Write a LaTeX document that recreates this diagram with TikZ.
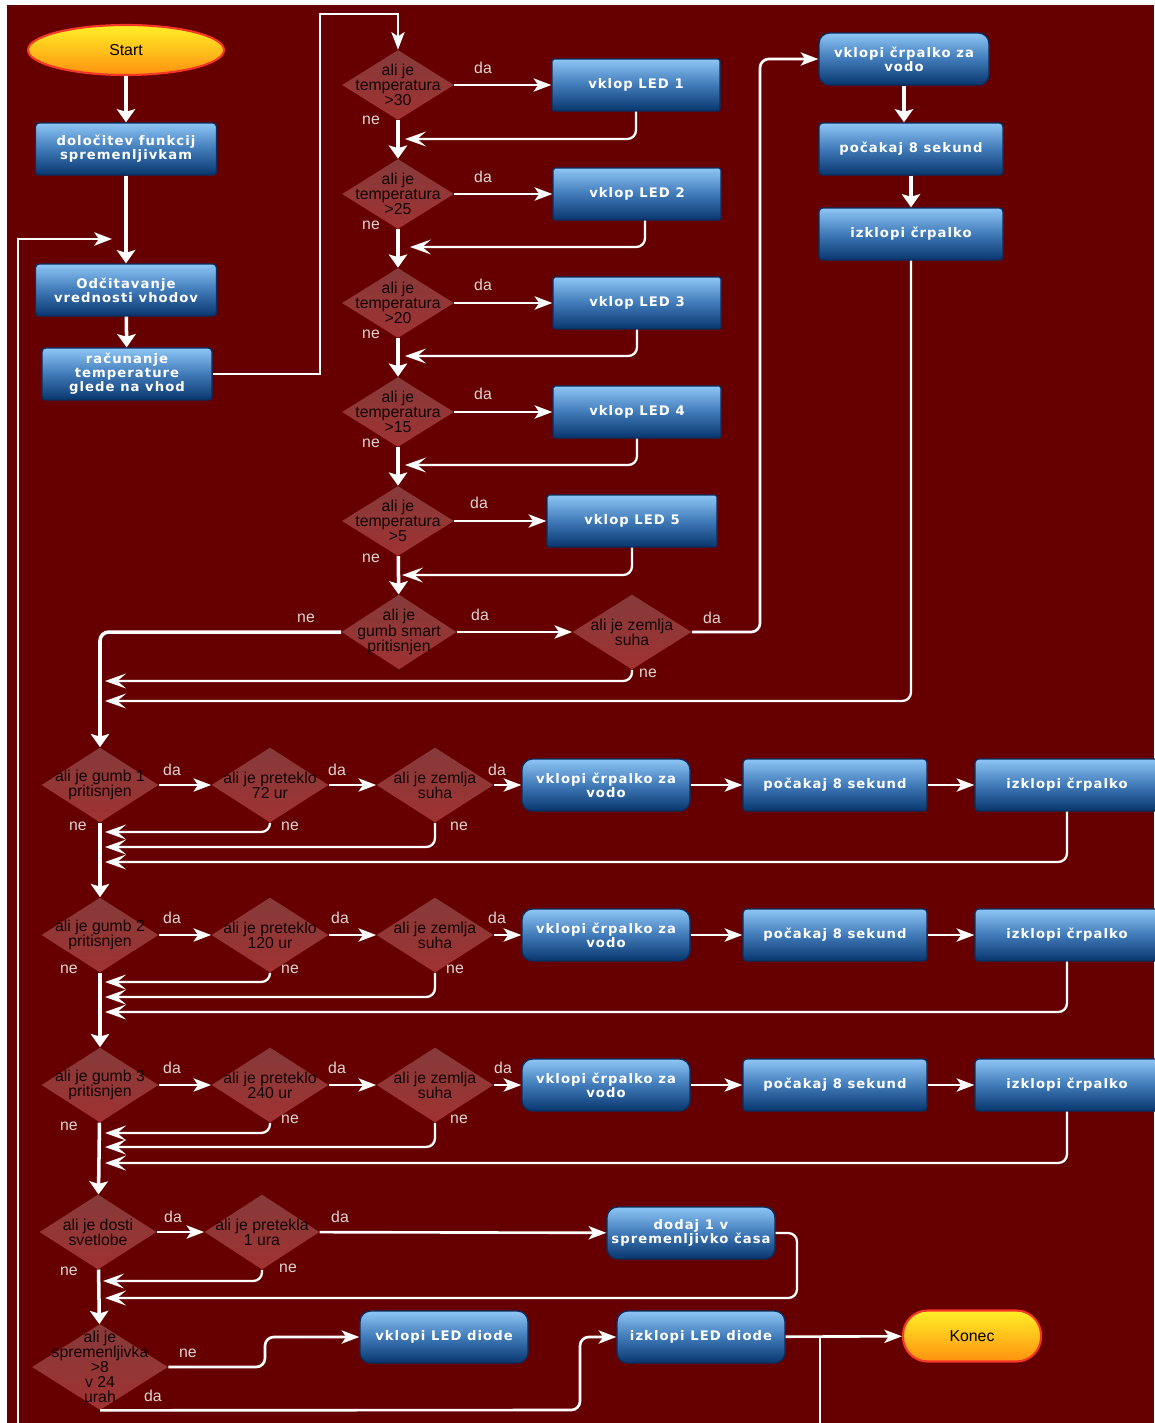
\documentclass[tikz,border=0pt]{standalone}
\usepackage{fontspec}
\setmainfont{Liberation Sans}
\newfontfamily\boxfont{DejaVu Sans}[LetterSpace=8]
\usetikzlibrary{arrows.meta,shapes.geometric}
\def\pxu{0.02cm}
\definecolor{ozadje}{RGB}{102,0,0}
\definecolor{modratop}{RGB}{142,198,246}
\definecolor{modrasr}{RGB}{64,122,184}
\definecolor{modrabot}{RGB}{8,54,110}
\definecolor{modrarob}{RGB}{12,46,94}
\definecolor{rdecatop}{RGB}{134,58,58}
\definecolor{rdecabot}{RGB}{160,50,50}
\definecolor{rumenatop}{RGB}{255,240,40}
\definecolor{rumenabot}{RGB}{255,145,15}
\definecolor{rdecrob}{RGB}{245,55,40}
\definecolor{oznsiva}{RGB}{222,212,212}
\definecolor{temnotekst}{RGB}{20,5,5}
\tikzset{
	korak/.style={rectangle, rounded corners=2pt, draw=modrarob, line width=0.8pt, top color=modratop, bottom color=modrabot, middle color=modrasr, text=white, font={\boxfont\bfseries\fontsize{7.5}{8}\selectfont}, align=center, minimum width=168*\pxu, minimum height=52*\pxu, inner sep=1pt},
	korakr/.style={korak, rounded corners=6pt},
	odlocitev/.style={diamond, draw=none, minimum width=112*\pxu, minimum height=70*\pxu, inner xsep=-40pt, inner ysep=-22pt, top color=rdecatop, bottom color=rdecabot, text=temnotekst, font={\fontsize{9}{8.6}\selectfont\lineskiplimit=-10pt}, align=center},
	vprasanje/.style={odlocitev, minimum width=117*\pxu, minimum height=75*\pxu},
	terminal/.style={ellipse, draw=rdecrob, line width=1.2pt, top color=rumenatop, bottom color=rumenabot, text=black, font=\fontsize{9}{10}\selectfont, minimum width=196*\pxu, minimum height=50*\pxu, inner sep=0pt},
	koncni/.style={terminal, rectangle, rounded corners=14pt, minimum width=138*\pxu, minimum height=51*\pxu},
	tok/.style={draw=white, line width=2pt, rounded corners=5pt, -{Stealth[length=7.5pt, width=10.5pt, inset=1.5pt]}},
	veja/.style={draw=white, line width=1.5pt, rounded corners=5pt, -{Stealth[length=10pt, width=7.5pt, inset=2.5pt]}},
	povratek/.style={draw=white, line width=1.3pt, rounded corners=5pt, -{Stealth[length=12pt, width=8.5pt, inset=5pt]}},
	crta/.style={draw=white, line width=1.5pt},
	oznaka/.style={text=oznsiva, font=\fontsize{9}{10}\selectfont, inner sep=0pt}
}

\begin{document}
\begin{tikzpicture}[x=0.02cm, y=-0.02cm]
			%%%%% START %%%%%
			
			\useasboundingbox (0,0) rectangle (1154,1423);
			\fill[white] (0,0) rectangle (1154,1423);
			\fill[ozadje] (7,5) rectangle (1154,1423);
			
			\node[terminal] (start) at (126,50) {Start};
			\node[korak, minimum width=181*\pxu] (dolocitev) at (126,149) {določitev funkcij\\spremenljivkam};
			\node[korak, minimum width=181*\pxu] (odcitavanje) at (126,290) {Odčitavanje\\vrednosti vhodov};
			\node[korak, minimum width=170*\pxu] (racunanje) at (127,374) {računanje\\temperature\\glede na vhod};
			
			\node[odlocitev] (t30) at (398,85) {ali je\\temperatura\\>30};
			\node[odlocitev] (t25) at (398,194) {ali je\\temperatura\\>25};
			\node[odlocitev] (t20) at (398,303) {ali je\\temperatura\\>20};
			\node[odlocitev] (t15) at (398,412) {ali je\\temperatura\\>15};
			\node[odlocitev] (t5) at (398,521) {ali je\\temperatura\\>5};
			
			\node[korak, rounded corners=1pt] (led1) at (636,85) {vklop LED 1};
			\node[korak, rounded corners=1pt] (led2) at (637,194) {vklop LED 2};
			\node[korak, rounded corners=1pt] (led3) at (637,303) {vklop LED 3};
			\node[korak, rounded corners=1pt] (led4) at (637,412) {vklop LED 4};
			\node[korak, rounded corners=1pt, minimum width=170*\pxu] (led5) at (632,521) {vklop LED 5};
			
			\node[vprasanje, minimum width=115*\pxu] (smart) at (399,632) {ali je\\gumb smart\\pritisnjen};
			\node[vprasanje, minimum width=119*\pxu] (zemlja0) at (632,632) {ali je zemlja\\suha};
			
			\node[korakr, minimum width=170*\pxu] (crp0) at (904,59) {vklopi črpalko za\\vodo};
			\node[korak, minimum width=184*\pxu] (cak0) at (911,149) {počakaj 8 sekund};
			\node[korak, minimum width=184*\pxu] (izk0) at (911,234) {izklopi črpalko};
			
			\node[vprasanje] (gumb1) at (100,785) {ali je gumb 1\\pritisnjen};
			\node[vprasanje] (ura72) at (270,785) {ali je preteklo\\72 ur};
			\node[vprasanje] (zemlja1) at (435,785) {ali je zemlja\\suha};
			\node[korakr] (crp1) at (606,785) {vklopi črpalko za\\vodo};
			\node[korak, minimum width=184*\pxu] (cak1) at (835,785) {počakaj 8 sekund};
			\node[korak, minimum width=184*\pxu] (izk1) at (1067,785) {izklopi črpalko};
			
			\node[vprasanje] (gumb2) at (100,935) {ali je gumb 2\\pritisnjen};
			\node[vprasanje] (ura120) at (270,935) {ali je preteklo\\120 ur};
			\node[vprasanje] (zemlja2) at (435,935) {ali je zemlja\\suha};
			\node[korakr] (crp2) at (606,935) {vklopi črpalko za\\vodo};
			\node[korak, minimum width=184*\pxu] (cak2) at (835,935) {počakaj 8 sekund};
			\node[korak, minimum width=184*\pxu] (izk2) at (1067,935) {izklopi črpalko};
			
			\node[vprasanje] (gumb3) at (100,1085) {ali je gumb 3\\pritisnjen};
			\node[vprasanje] (ura240) at (270,1085) {ali je preteklo\\240 ur};
			\node[vprasanje] (zemlja3) at (435,1085) {ali je zemlja\\suha};
			\node[korakr] (crp3) at (606,1085) {vklopi črpalko za\\vodo};
			\node[korak, minimum width=184*\pxu] (cak3) at (835,1085) {počakaj 8 sekund};
			\node[korak, minimum width=184*\pxu] (izk3) at (1067,1085) {izklopi črpalko};
			
			\node[vprasanje] (dosti) at (98,1232) {ali je dosti\\svetlobe};
			\node[vprasanje, minimum width=115*\pxu] (ura1) at (262,1232) {ali je pretekla\\1 ura};
			\node[korakr] (dodaj) at (691,1233) {dodaj 1 v\\spremenljivko časa};
			
			\node[odlocitev, minimum width=136*\pxu, minimum height=86*\pxu] (spr8) at (100,1367) {ali je\\spremenljivka\\>8\\v 24\\urah};
			\node[korakr] (ledon) at (444,1337) {vklopi LED diode};
			\node[korakr] (ledoff) at (701,1337) {izklopi LED diode};
			\node[koncni] (konec) at (972,1336) {Konec};
			
			% da / ne
			\node[oznaka] (da30) at (483,68) {da};
			\node[oznaka] (ne30) at (371,120) {ne};
			\node[oznaka] (da25) at (483,177) {da};
			\node[oznaka] (ne25) at (371,225) {ne};
			\node[oznaka] (da20) at (483,285) {da};
			\node[oznaka] (ne20) at (371,334) {ne};
			\node[oznaka] (da15) at (483,394) {da};
			\node[oznaka] (ne15) at (371,443) {ne};
			\node[oznaka] (da5) at (479,503) {da};
			\node[oznaka] (ne5) at (371,558) {ne};
			\node[oznaka] (nesmart) at (306,618) {ne};
			\node[oznaka] (dasmart) at (480,615) {da};
			\node[oznaka] (dazemlja0) at (712,618) {da};
			\node[oznaka] (nezemlja0) at (648,673) {ne};
			
			\node[oznaka] (dagumb1) at (172,770) {da};
			\node[oznaka] (daura72) at (337,770) {da};
			\node[oznaka] (dazemlja1) at (497,770) {da};
			\node[oznaka] (negumb1) at (78,826) {ne};
			\node[oznaka] (neura72) at (290,826) {ne};
			\node[oznaka] (nezemlja1) at (459,826) {ne};
			
			\node[oznaka] (dagumb2) at (172,918) {da};
			\node[oznaka] (daura120) at (340,918) {da};
			\node[oznaka] (dazemlja2) at (497,918) {da};
			\node[oznaka] (negumb2) at (69,969) {ne};
			\node[oznaka] (neura120) at (290,969) {ne};
			\node[oznaka] (nezemlja2) at (455,969) {ne};
			
			\node[oznaka] (dagumb3) at (172,1068) {da};
			\node[oznaka] (daura240) at (337,1068) {da};
			\node[oznaka] (dazemlja3) at (503,1068) {da};
			\node[oznaka] (negumb3) at (69,1126) {ne};
			\node[oznaka] (neura240) at (290,1119) {ne};
			\node[oznaka] (nezemlja3) at (459,1119) {ne};
			
			\node[oznaka] (dadosti) at (173,1217) {da};
			\node[oznaka] (daura1) at (340,1217) {da};
			\node[oznaka] (nedosti) at (69,1271) {ne};
			\node[oznaka] (neura1) at (288,1268) {ne};
			\node[oznaka] (nespr8) at (188,1353) {ne};
			\node[oznaka] (daspr8) at (153,1396) {da};
			
			% stekalisca
			\coordinate (m30) at (405,139);
			\coordinate (m25) at (410,247);
			\coordinate (m20) at (405,356);
			\coordinate (m15) at (405,465);
			\coordinate (m5) at (402,575);
			\coordinate (mz0) at (105,681);
			\coordinate (mc0) at (105,701);
			\coordinate (m11) at (105,832);
			\coordinate (m12) at (105,847);
			\coordinate (m13) at (105,862);
			\coordinate (m21) at (105,982);
			\coordinate (m22) at (105,997);
			\coordinate (m23) at (105,1012);
			\coordinate (m31) at (105,1133);
			\coordinate (m32) at (105,1147);
			\coordinate (m33) at (105,1163);
			\coordinate (m41) at (103,1281);
			\coordinate (m42) at (105,1298);
			\coordinate (zanka) at (112,239);
			\coordinate (dno1) at (18,1423);
			\coordinate (dno2) at (820,1423);
			
			\draw[tok] (start) -- (dolocitev);
			\draw[tok] (dolocitev) -- (odcitavanje);
			\draw[tok] (odcitavanje) -- (racunanje);
			\draw[veja, rounded corners=0pt] (racunanje.east) -| (320,14) -| (t30.north);
			\draw[veja, rounded corners=0pt] (dno1) |- (zanka);
			
			\draw[veja] (t30) -- (led1);
			\draw[veja] (t25) -- (led2);
			\draw[veja] (t20) -- (led3);
			\draw[veja] (t15) -- (led4);
			\draw[veja] (t5) -- (led5);
			\draw[povratek] (led1.south) |- (m30);
			\draw[povratek] (645,0 |- led2.south) |- (m25);
			\draw[povratek] (led3.south) |- (m20);
			\draw[povratek] (led4.south) |- (m15);
			\draw[povratek] (led5.south) |- (m5);
			\draw[tok] (t30) -- (t25);
			\draw[tok] (t25) -- (t20);
			\draw[tok] (t20) -- (t15);
			\draw[tok] (t15) -- (t5);
			\draw[tok] (t5) -- (smart);
			
			\draw[veja] (smart) -- (zemlja0);
			\draw[veja] (zemlja0.east) -| (760,59) -- (crp0.west);
			\draw[tok] (crp0.south) -- (crp0.south |- cak0.north);
			\draw[tok] (cak0) -- (izk0);
			\draw[povratek] (zemlja0.south) |- (mz0);
			\draw[povratek] (izk0.south) |- (mc0);
			\draw[tok] (smart.west) -| (gumb1.north);
			
			\draw[veja] (gumb1) -- (ura72);
			\draw[veja] (ura72) -- (zemlja1);
			\draw[veja] (zemlja1) -- (crp1);
			\draw[veja] (crp1) -- (cak1);
			\draw[veja] (cak1) -- (izk1);
			\draw[povratek] (ura72.south) |- (m11);
			\draw[povratek] (zemlja1.south) |- (m12);
			\draw[povratek] (izk1.south) |- (m13);
			\draw[tok] (gumb1) -- (gumb2);
			
			\draw[veja] (gumb2) -- (ura120);
			\draw[veja] (ura120) -- (zemlja2);
			\draw[veja] (zemlja2) -- (crp2);
			\draw[veja] (crp2) -- (cak2);
			\draw[veja] (cak2) -- (izk2);
			\draw[povratek] (ura120.south) |- (m21);
			\draw[povratek] (zemlja2.south) |- (m22);
			\draw[povratek] (izk2.south) |- (m23);
			\draw[tok] (gumb2) -- (gumb3);
			
			\draw[veja] (gumb3) -- (ura240);
			\draw[veja] (ura240) -- (zemlja3);
			\draw[veja] (zemlja3) -- (crp3);
			\draw[veja] (crp3) -- (cak3);
			\draw[veja] (cak3) -- (izk3);
			\draw[povratek] (ura240.south) |- (m31);
			\draw[povratek] (zemlja3.south) |- (m32);
			\draw[povratek] (izk3.south) |- (m33);
			\draw[tok] (gumb3) -- (dosti);
			
			\draw[veja] (dosti) -- (ura1);
			\draw[veja] (ura1) -- (dodaj);
			\draw[povratek] (ura1.south) |- (m41);
			\draw[povratek] (dodaj.east) -| (797,1298) -- (m42);
			\draw[tok] (dosti) -- (spr8);
			
			\draw[veja] (spr8.east) -- (265,1367) |- (ledon.west);
			\draw[veja] (spr8.south) -- (580,1410) |- (ledoff.west);
			\draw[veja] (ledoff) -- (konec);
			\draw[crta] (ledoff.east -| dno2) -- (dno2);
			
			%%%%% END %%%%%
\end{tikzpicture}
\end{document}
